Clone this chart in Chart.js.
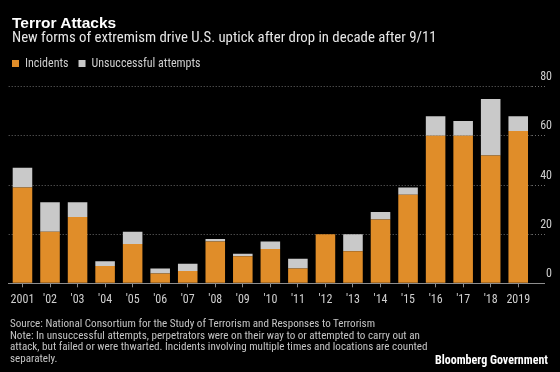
<!DOCTYPE html>
<html>
<head>
<meta charset="utf-8">
<script src="https://cdn.jsdelivr.net/npm/chart.js@4.4.1/dist/chart.umd.min.js"></script>
<style>
  html, body { margin: 0; padding: 0; background: #000; }
  #wrap { position: relative; width: 560px; height: 372px; overflow: hidden; background: #000; }
  #c { position: absolute; left: 0; top: 0; }
  .t { position: absolute; white-space: nowrap; margin: 0; }
  #title { left: 12px; top: 13.6px; font: bold 15.5px/18px "Liberation Sans", sans-serif; color: #ffffff; }
  #sub { left: 12px; top: 29.2px; font: 14.8px/16px "Roboto Condensed", "Roboto", sans-serif; color: #e6e6e6; }
  #foot { left: 10px; top: 318.1px; font: 11.1px/11.67px "Roboto Condensed", "Roboto", sans-serif; color: #c4c4c4; }
  #brand { right: 12px; top: 353.4px; font: bold 12px/14px "Roboto Condensed", "Roboto", sans-serif; color: #ffffff; }
</style>
</head>
<body>
<div id="wrap">
  <canvas id="c" width="560" height="372"></canvas>
  <div class="t" id="title">Terror Attacks</div>
  <div class="t" id="sub">New forms of extremism drive U.S. uptick after drop in decade after 9/11</div>
  <div class="t" id="foot">Source: National Consortium for the Study of Terrorism and Responses to Terrorism<br>Note: In unsuccessful attempts, perpetrators were on their way to or attempted to carry out an<br>attack, but failed or were thwarted. Incidents involving multiple times and locations are counted<br>separately.</div>
  <div class="t" id="brand">Bloomberg Government</div>
</div>
<script>
// ---- data ----
const years = ["2001", "'02", "'03", "'04", "'05", "'06", "'07", "'08", "'09", "'10",
               "'11", "'12", "'13", "'14", "'15", "'16", "'17", "'18", "2019"];
const incidents    = [39, 21, 27, 7, 16, 4, 5, 17, 11, 14, 6, 20, 13, 26, 36, 60, 60, 52, 62];
const unsuccessful = [ 8, 12,  6, 2,  5, 2, 3,  1,  1,  3, 4,  0,  7,  3,  3,  8,  6, 23,  6];
const yTicks = [0, 20, 40, 60, 80];
const seriesNames = ["Incidents", "Unsuccessful attempts"];

const ORANGE = "#e08d29";
const GREY = "#c9c9c9";
const GRID = "#6a6a6a";
const AXIS = "#8e8e8e";
const TXT = "#cfcfcf";
const FONT = "'Roboto Condensed', 'Roboto', sans-serif";

new Chart(document.getElementById('c'), {
  type: 'bar',
  data: {
    labels: years,
    datasets: [
      { label: seriesNames[0], data: incidents, backgroundColor: ORANGE, borderWidth: 0,
        categoryPercentage: 1, barPercentage: 0.71, xAxisID: 'x', yAxisID: 'y' },
      { label: seriesNames[1], data: unsuccessful, backgroundColor: GREY, borderWidth: 0,
        categoryPercentage: 1, barPercentage: 0.71, xAxisID: 'x', yAxisID: 'y' }
    ]
  },
  options: {
    responsive: false,
    animation: false,
    devicePixelRatio: 1,
    layout: { padding: { top: 47.5, left: 2, right: 8, bottom: 60.3 } },
    plugins: {
      title: { display: false },
      tooltip: { enabled: false },
      legend: {
        position: 'top',
        align: 'start',
        labels: {
          boxWidth: 7, boxHeight: 7, padding: 10,
          color: TXT,
          font: { family: FONT, size: 12 }
        }
      }
    },
    scales: {
      x: {
        stacked: true,
        position: 'bottom',
        offset: true,
        grid: { display: true, drawOnChartArea: false, drawTicks: true, offset: false,
                tickLength: 4, tickColor: AXIS, tickWidth: 1 },
        border: { display: true, color: AXIS, width: 1 },
        ticks: { color: TXT, font: { family: FONT, size: 12 }, padding: 5,
                 autoSkip: false, maxRotation: 0, minRotation: 0 }
      },
      xt: {
        type: 'category',
        position: 'top',
        display: true,
        grid: { display: false },
        border: { display: false },
        ticks: { display: false },
        afterFit: (s) => { s.height = 7.2; }
      },
      yl: {
        type: 'linear',
        position: 'left',
        display: true,
        grid: { display: false },
        border: { display: false },
        ticks: { display: false },
        afterFit: (s) => { s.width = 6.7; }
      },
      y: {
        stacked: true,
        position: 'right',
        min: yTicks[0],
        max: yTicks[yTicks.length - 1],
        afterBuildTicks: (s) => { s.ticks = yTicks.map(v => ({ value: v })); },
        grid: {
          display: true,
          drawOnChartArea: true,
          drawTicks: true,
          tickLength: 13,
          color: (ctx) => (ctx.tick && ctx.tick.value === 0) ? AXIS : GRID,
          tickColor: (ctx) => (ctx.tick && ctx.tick.value === 0) ? AXIS : GRID,
          tickBorderDash: (ctx) => (ctx.tick && ctx.tick.value === 0) ? [] : [1, 2],
          lineWidth: 1
        },
        border: { display: false, dash: [1, 2] },
        ticks: {
          color: TXT,
          font: { family: FONT, size: 12 },
          crossAlign: 'far',
          padding: -12,
          labelOffset: -9.5
        },
        afterFit: (s) => { s.width = 20; }
      }
    }
  }
});
</script>
</body>
</html>
